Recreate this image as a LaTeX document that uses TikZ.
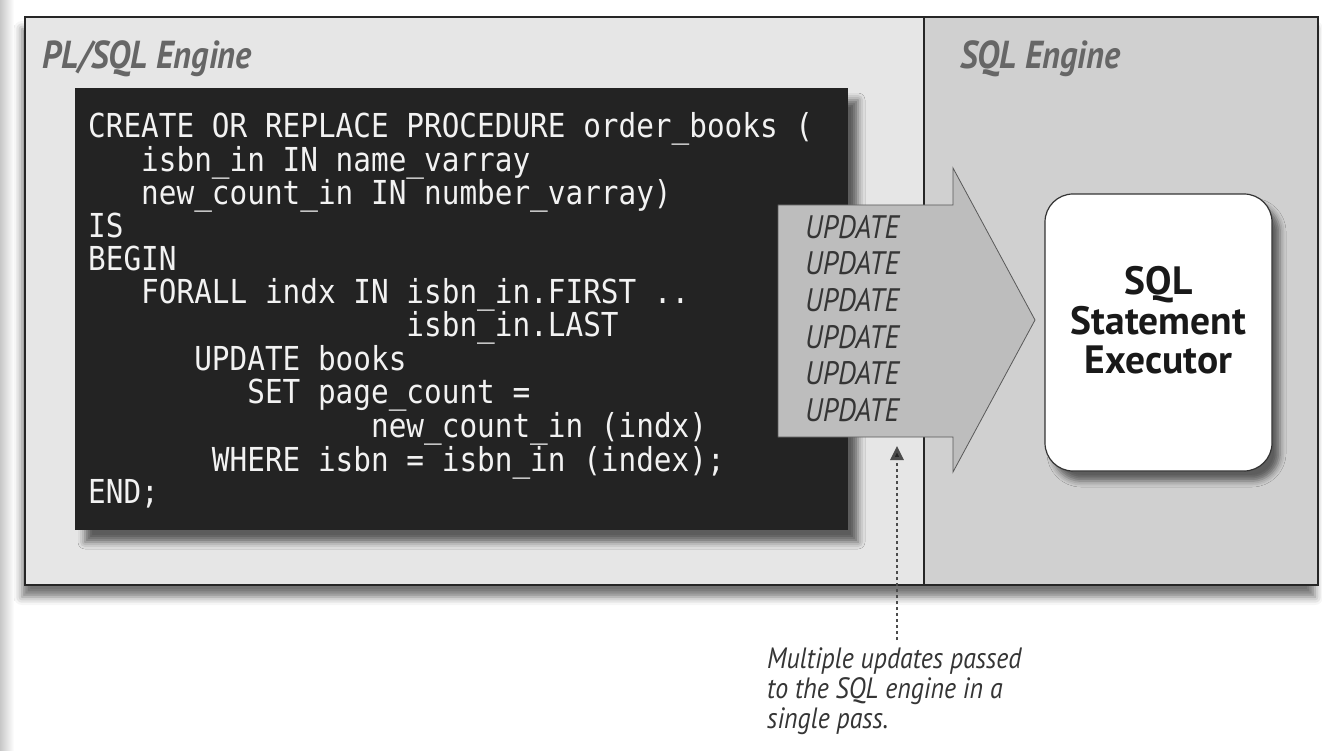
\documentclass[tikz,border=0pt]{standalone}
\usepackage{fontspec}
\setmainfont{PT Sans}
\newfontfamily\codefont[FakeStretch=0.89]{DejaVu Sans Mono}
\newfontfamily\narrowfont[FakeStretch=0.88]{PT Sans}
\usetikzlibrary{positioning,shadows.blur,arrows.meta,calc}
\definecolor{plfill}{HTML}{E6E6E6}
\definecolor{sqlfill}{HTML}{D0D0D0}
\definecolor{codefill}{HTML}{232323}
\definecolor{arrowfill}{HTML}{BDBDBD}
\definecolor{labelgray}{HTML}{666666}
\definecolor{inkgray}{HTML}{353535}

\begin{document}
\begin{tikzpicture}[x=1pt,y=-1pt,
  outer frame/.style={fill=white,minimum width=1293pt,minimum height=568pt,inner sep=0pt,outer sep=0pt,
    blur shadow={shadow xshift=-3pt,shadow yshift=-12pt,shadow blur radius=8pt,shadow opacity=55}},
  region/.style={draw=black!85,line width=2.5pt,minimum height=568pt,inner sep=0pt,outer sep=0pt},
  engine label/.style={font=\narrowfont\bfseries\itshape\fontsize{39}{42}\selectfont,text=labelgray,inner sep=0pt,anchor=base west},
  code box/.style={fill=codefill,minimum width=773pt,minimum height=442pt,inner sep=0pt,outer sep=0pt,
    blur shadow={shadow xshift=10pt,shadow yshift=-12pt,shadow blur radius=7pt,shadow opacity=60}},
  code text/.style={font=\codefont\fontsize{33}{32.7}\selectfont,text=black!5,align=left,inner sep=0pt,anchor=north west},
  update text/.style={font=\narrowfont\itshape\fontsize{32.5}{36.6}\selectfont,text=inkgray,align=left,inner sep=0pt,anchor=north west},
  executor box/.style={fill=white,draw=black!80,line width=1.2pt,rounded corners=28pt,minimum width=227pt,minimum height=277pt,
    inner sep=0pt,outer sep=0pt,blur shadow={shadow xshift=8pt,shadow yshift=-10pt,shadow blur radius=6pt,shadow opacity=55}},
  executor text/.style={font=\bfseries\fontsize{39.5}{39.5}\selectfont,text=black!90,align=center,inner sep=0pt},
  note text/.style={font=\narrowfont\itshape\fontsize{29.4}{30}\selectfont,text=inkgray,align=left,inner sep=0pt,anchor=north west},
  pass arrow/.style={draw=black!70,line width=2.8pt,dash pattern=on 2.8pt off 3.2pt,-{Triangle[width=13pt,length=14pt,fill=black!85]}}]

\useasboundingbox (0,0) rectangle (1322,751);
\shade[left color=black!22,right color=white] (0,0) rectangle (14,751);

% engines
\node[outer frame,anchor=north west] (frame) at (25,17) {};
\node[region,fill=plfill,minimum width=899pt,anchor=north west] (plsql) at (frame.north west) {};
\node[region,fill=sqlfill,minimum width=394pt,anchor=north west] (sqlside) at (plsql.north east) {};
\node[engine label] (pllabel) at (42,69) {PL/SQL Engine};
\node[engine label] (sqllabel) at (960,69) {SQL Engine};

% the procedure
\node[code box,anchor=north west] (code) at (75,88) {};
\node[code text] (listing) at (88,112) {CREATE OR REPLACE PROCEDURE order\_books (\\
~~~isbn\_in IN name\_varray\\
~~~new\_count\_in IN number\_varray)\\
IS\\
BEGIN\\
~~~FORALL indx IN isbn\_in.FIRST ..\\
~~~~~~~~~~~~~~~~~~isbn\_in.LAST\\
~~~~~~UPDATE books\\
~~~~~~~~~SET page\_count =\\
~~~~~~~~~~~~~~~~new\_count\_in (indx)\\
~~~~~~~WHERE isbn = isbn\_in (index);\\
END;};

% bulk arrow
\coordinate (tail top) at (778,205);
\coordinate (tail bottom) at (778,437);
\coordinate (tip) at (1035,320);
\filldraw[fill=arrowfill,draw=black!65,line width=0.8pt]
  (tail top) -- (953,205) -- (953,168) -- (tip) -- (953,472) -- (953,437) -- (tail bottom) -- cycle;
\node[update text] (updates) at (805,215) {UPDATE\\UPDATE\\UPDATE\\UPDATE\\UPDATE\\UPDATE};

% executor
\node[executor box,anchor=north west] (exec) at (1045,194) {};
\node[executor text] (exectext) at ([yshift=12pt]exec.center) {SQL\\Statement\\Executor};

% note
\node[note text] (note) at (767,647) {Multiple updates passed\\to the SQL engine in a\\single pass.};
\coordinate (notefoot) at (897,640);
\coordinate (notehead) at (897,446);
\draw[pass arrow] (notefoot) -- (notehead);

\end{tikzpicture}
\end{document}
